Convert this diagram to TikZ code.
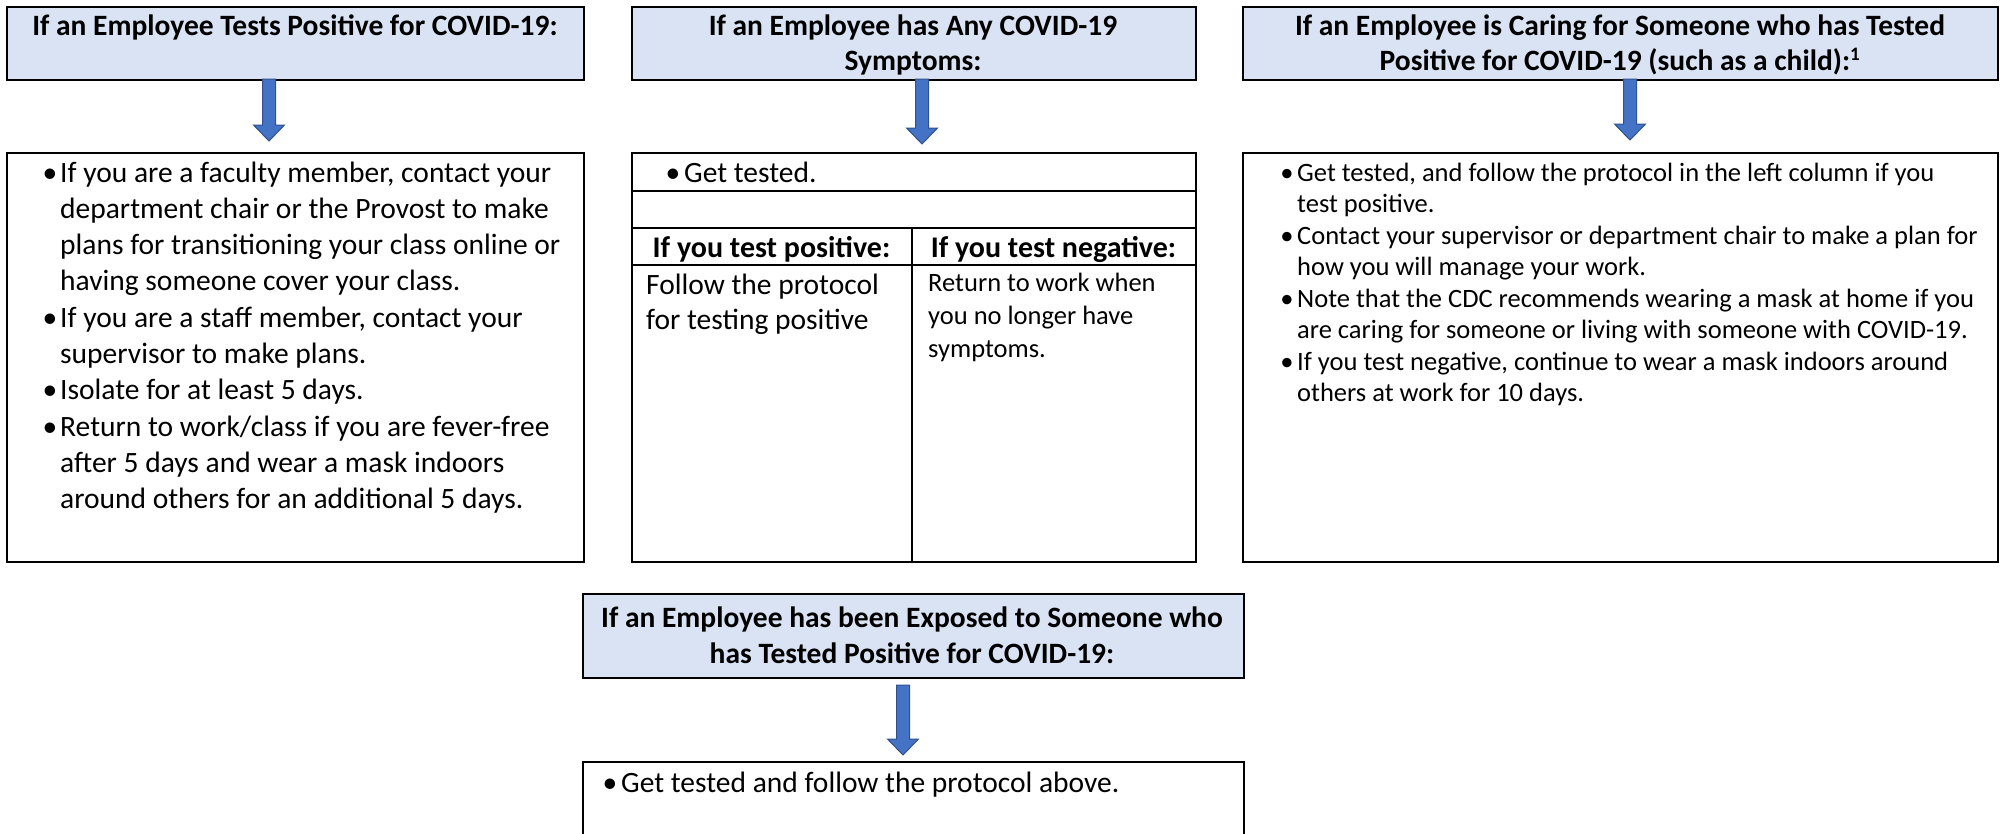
\documentclass[tikz,border=0pt]{standalone}
\usepackage{fontspec}
\setmainfont{Carlito}
\usetikzlibrary{calc}
\definecolor{hdrfill}{HTML}{DAE3F3}
\definecolor{arrfill}{HTML}{4472C4}
\definecolor{arrline}{HTML}{2F528F}
\newcommand{\blockarrow}[2]{%
  \path[fill=arrfill, draw=arrline, line width=1pt, line join=miter]
    let \p1=(#1), \p2=(#2) in
    (\x1-6.5pt,\y1) -- (\x1+6.5pt,\y1) -- (\x1+6.5pt,\y2+16pt) -- (\x1+15.5pt,\y2+16pt)
    -- (\x2,\y2) -- (\x1-15.5pt,\y2+16pt) -- (\x1-6.5pt,\y2+16pt) -- cycle;}
\begin{document}
\begin{tikzpicture}[x=1pt,y=-1pt,
  hdr/.style={draw, line width=2pt, fill=hdrfill, anchor=north west, inner sep=0pt},
  box/.style={draw, line width=2pt, fill=white, anchor=north west, inner sep=0pt},
  ht/.style={font=\fontsize{29.5}{35}\selectfont\bfseries, anchor=base, inner sep=0pt},
  tht/.style={font=\fontsize{30}{35}\selectfont\bfseries, anchor=base, inner sep=0pt},
  bt/.style={font=\fontsize{29.5}{36}\selectfont, anchor=base west, inner sep=0pt},
  st/.style={font=\fontsize{26.5}{31}\selectfont, anchor=base west, inner sep=0pt},
  bul/.style={font=\fontsize{29.5}{36}\selectfont, anchor=base, inner sep=0pt},
  sbul/.style={font=\fontsize{26.5}{31}\selectfont, anchor=base, inner sep=0pt},
  rule/.style={line width=2pt}]
\useasboundingbox (0,0) rectangle (2000,833);
\clip (0,0) rectangle (2000,833);
\fill[white] (0,0) rectangle (2000,833);

% headers
\node[hdr, minimum width=577pt, minimum height=73pt] (h1) at (6,6) {};
\node[hdr, minimum width=564pt, minimum height=73pt] (h2) at (631,6) {};
\node[hdr, minimum width=755pt, minimum height=73pt] (h3) at (1242,6) {};
\node[hdr, minimum width=661pt, minimum height=84pt] (h4) at (582,593) {};

\node[ht] (h1t) at (295,35) {If an Employee Tests Positive for COVID-19:};
\node[ht] (h2t1) at (913,35) {If an Employee has Any COVID-19};
\node[ht] (h2t2) at (913,70) {Symptoms:};
\node[ht] (h3t1) at (1620,35) {If an Employee is Caring for Someone who has Tested};
\node[ht] (h3t2) at (1620,70) {Positive for COVID-19 (such as a child):\textsuperscript{\fontsize{19}{19}\selectfont 1}};
\node[ht] (h4t1) at (912,627) {If an Employee has been Exposed to Someone who};
\node[ht] (h4t2) at (912,663) {has Tested Positive for COVID-19:};

% content boxes
\node[box, minimum width=577pt, minimum height=409pt] (b1) at (6,152) {};
\node[box, minimum width=564pt, minimum height=409pt] (t2) at (631,152) {};
\node[box, minimum width=755pt, minimum height=409pt] (b3) at (1242,152) {};
\node[box, minimum width=661pt, minimum height=90pt] (b4) at (582,761) {};

% table rules
\draw[rule] (631,191) -- (1195,191);
\draw[rule] (631,228) -- (1195,228);
\draw[rule] (631,265) -- (1195,265);
\draw[rule] (912,228) -- (912,561);

% arrows
\coordinate (a1s) at (269,79);   \coordinate (a1e) at (269,141);
\coordinate (a2s) at (922,79);   \coordinate (a2e) at (922,144);
\coordinate (a3s) at (1630,79);  \coordinate (a3e) at (1630,140);
\coordinate (a4s) at (903,685);  \coordinate (a4e) at (903,755);
\blockarrow{a1s}{a1e}
\blockarrow{a2s}{a2e}
\blockarrow{a3s}{a3e}
\blockarrow{a4s}{a4e}

% box 1 text
\node[bul] (b1b1) at (50,182) {•};
\node[bt] (b1l1) at (60,182) {If you are a faculty member, contact your};
\node[bt] (b1l2) at (60,218.3) {department chair or the Provost to make};
\node[bt] (b1l3) at (60,254.6) {plans for transitioning your class online or};
\node[bt] (b1l4) at (60,290.9) {having someone cover your class.};
\node[bul] (b1b2) at (50,327.2) {•};
\node[bt] (b1l5) at (60,327.2) {If you are a staff member, contact your};
\node[bt] (b1l6) at (60,363.5) {supervisor to make plans.};
\node[bul] (b1b3) at (50,399.8) {•};
\node[bt] (b1l7) at (60,399.8) {Isolate for at least 5 days.};
\node[bul] (b1b4) at (50,436.1) {•};
\node[bt] (b1l8) at (60,436.1) {Return to work/class if you are fever-free};
\node[bt] (b1l9) at (60,472.4) {after 5 days and wear a mask indoors};
\node[bt] (b1l10) at (60,508.7) {around others for an additional 5 days.};

% table text
\node[bul] (t2b) at (673,182) {•};
\node[bt] (t2r1) at (684,182) {Get tested.};
\node[tht] (t2pos) at (771.5,257) {If you test positive:};
\node[tht] (t2neg) at (1053.5,257) {If you test negative:};
\node[bt] (t2p1) at (646,294) {Follow the protocol};
\node[bt] (t2p2) at (646,329) {for testing positive};
\node[st] (t2n1) at (928,291) {Return to work when};
\node[st] (t2n2) at (928,324) {you no longer have};
\node[st] (t2n3) at (928,357) {symptoms.};

% box 3 text
\node[sbul] (b3b1) at (1287,181) {•};
\node[st] (b3l1) at (1297,181) {Get tested, and follow the protocol in the left column if you};
\node[st] (b3l2) at (1297,212.5) {test positive.};
\node[sbul] (b3b2) at (1287,244) {•};
\node[st] (b3l3) at (1297,244) {Contact your supervisor or department chair to make a plan for};
\node[st] (b3l4) at (1297,275.5) {how you will manage your work.};
\node[sbul] (b3b3) at (1287,307) {•};
\node[st] (b3l5) at (1297,307) {Note that the CDC recommends wearing a mask at home if you};
\node[st] (b3l6) at (1297,338.5) {are caring for someone or living with someone with COVID-19.};
\node[sbul] (b3b4) at (1287,370) {•};
\node[st] (b3l7) at (1297,370) {If you test negative, continue to wear a mask indoors around};
\node[st] (b3l8) at (1297,401.5) {others at work for 10 days.};

% box 4 text
\node[bul] (b4b) at (610,792) {•};
\node[bt] (b4t) at (621,792) {Get tested and follow the protocol above.};
\end{tikzpicture}
\end{document}
